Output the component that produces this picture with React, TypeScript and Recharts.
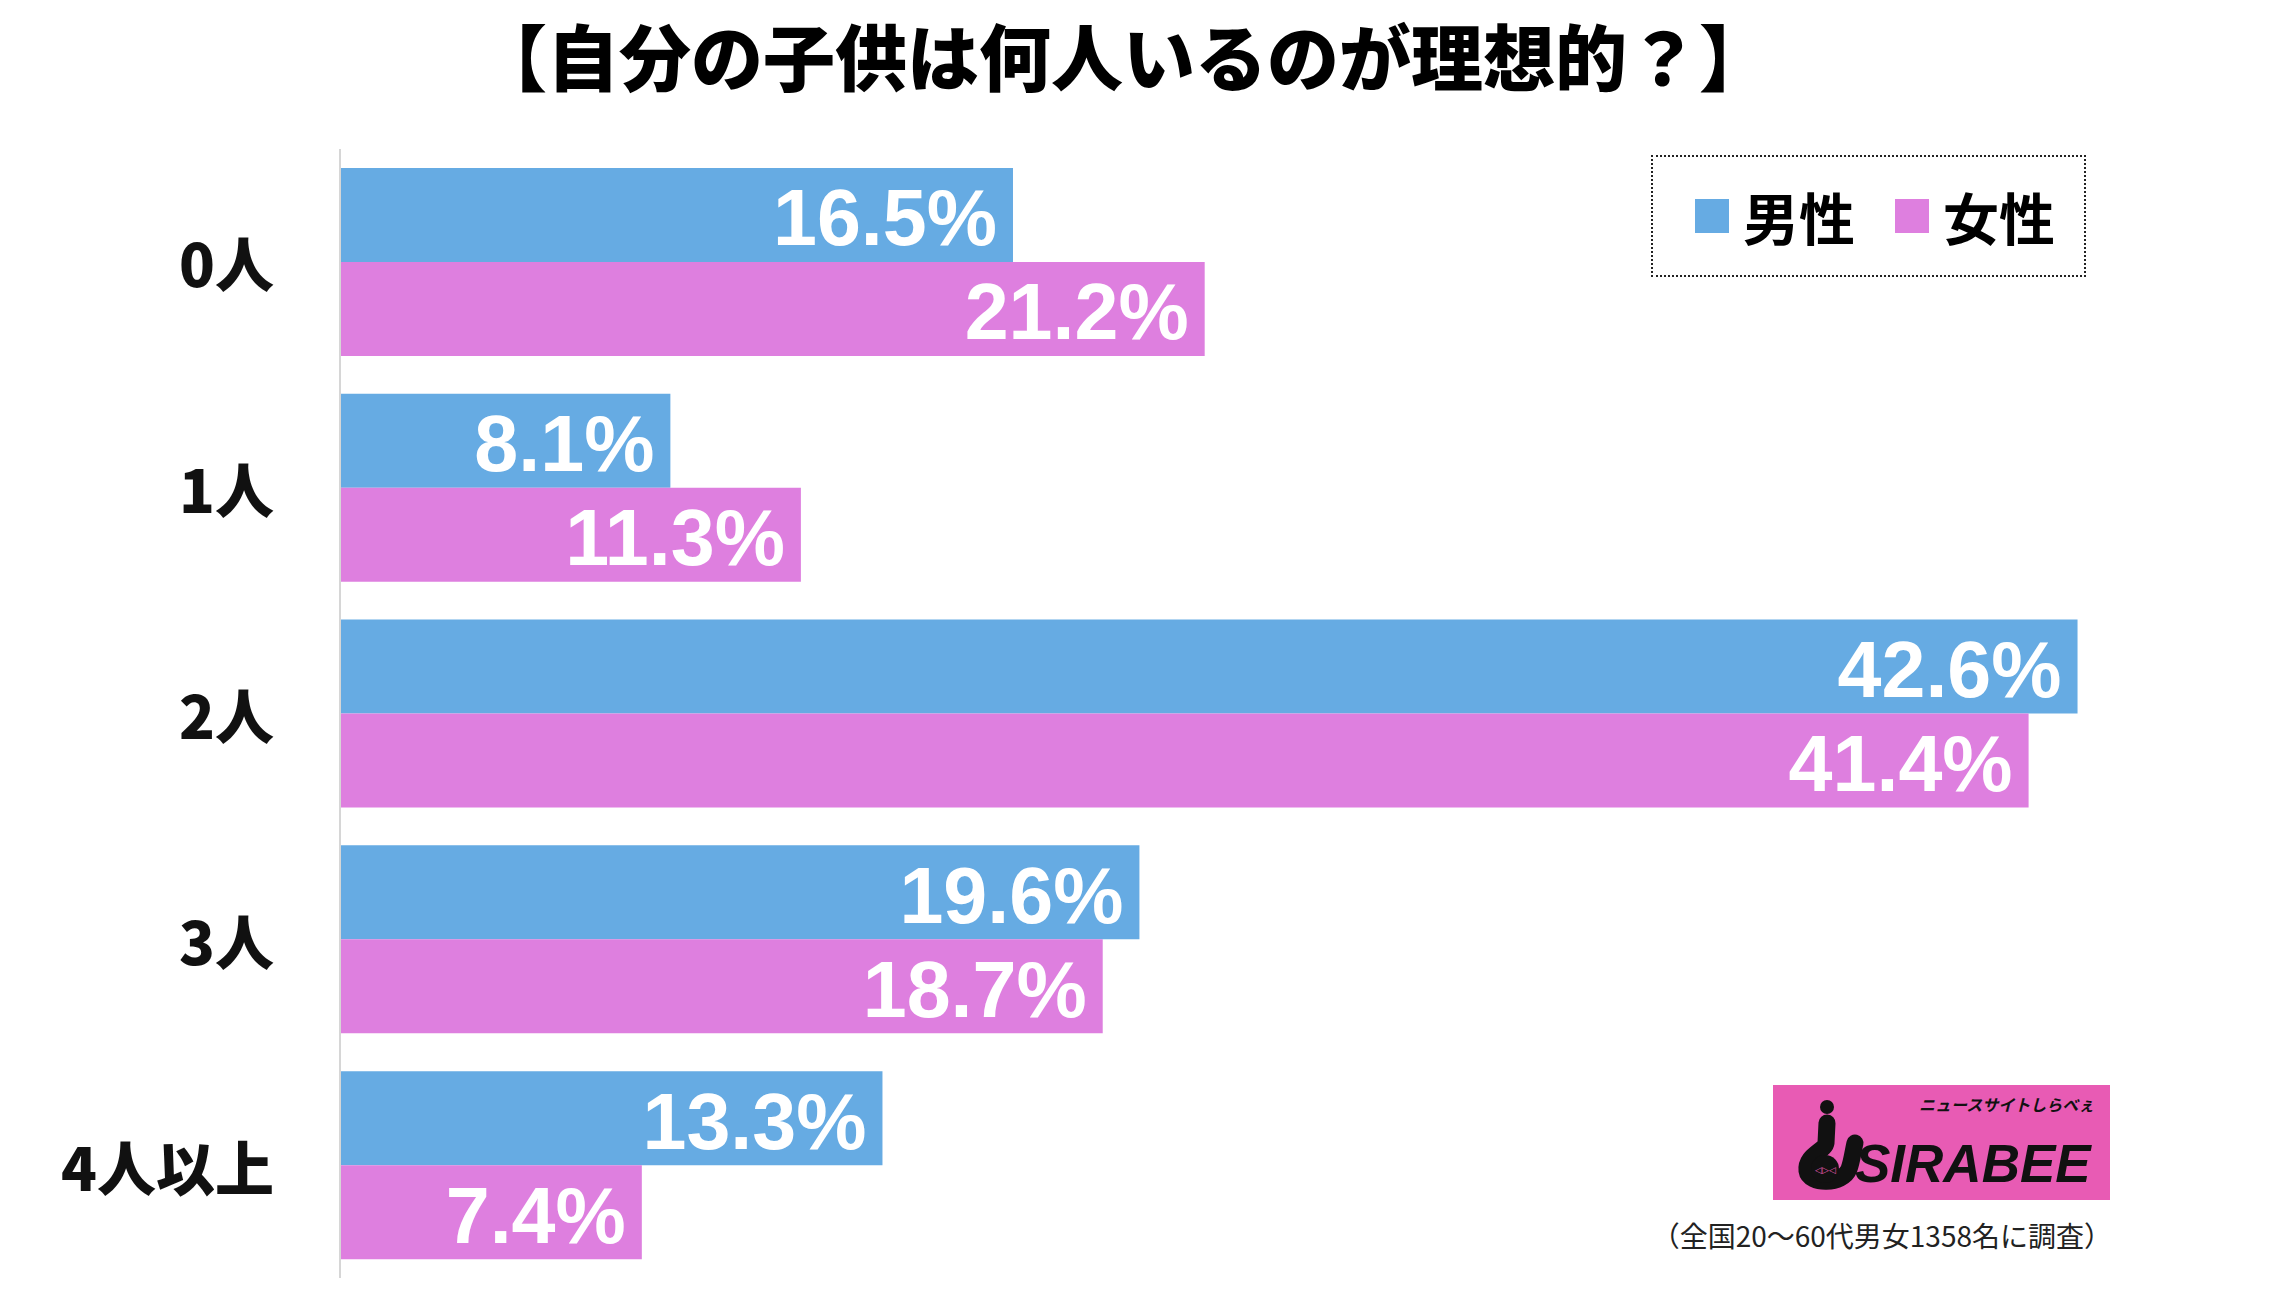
import { BarChart, Bar, XAxis, YAxis, LabelList } from 'recharts';

// survey answers: ideal number of own children
const categories = ['0人', '1人', '2人', '3人', '4人以上'];
const maleValues = [16.5, 8.1, 42.6, 19.6, 13.3];
const femaleValues = [21.2, 11.3, 41.4, 18.7, 7.4];
const seriesNames = ['男性', '女性'];

const COLORS = ['#66abe3', '#de7fdf'];
const JP_FONT = "'Noto Sans CJK JP', 'Noto Sans CJK SC', sans-serif";

const data = categories.map((name, i) => ({
  name,
  male: maleValues[i],
  female: femaleValues[i],
}));

function CategoryTick(props: any) {
  const { y, payload } = props;
  return (
    <text
      x={274}
      y={y}
      textAnchor="end"
      dominantBaseline="central"
      fontSize={59}
      fontWeight={900}
      fontFamily={JP_FONT}
      fill="#111"
    >
      {payload.value}
    </text>
  );
}

function ValueLabel(props: any) {
  const { x, y, width, height, value } = props;
  return (
    <text
      x={x + width - 16}
      y={y + height / 2 + 3}
      textAnchor="end"
      dominantBaseline="central"
      fill="#fff"
      fontSize={79}
      fontWeight={700}
      fontFamily="'Liberation Sans', Arial, sans-serif"
    >
      {Number(value).toFixed(1)}%
    </text>
  );
}

function Logo() {
  return (
    <svg
      width={337}
      height={115}
      style={{ position: 'absolute', left: 1773, top: 1085 }}
    >
      <rect x={0} y={0} width={337} height={115} fill="#e85bb4" />
      {/* the "i" mascot */}
      <circle cx={54} cy={22} r={7} fill="#111" />
      <path
        d="M54 38 L53 58 C 52 66, 32 70, 34 86 C 36 100, 70 100, 76 84 C 79 76, 80 66, 82 58"
        stroke="#111"
        strokeWidth={17}
        strokeLinecap="round"
        fill="none"
      />
      <circle cx={52} cy={84} r={14} fill="#111" />
      <text x={42} y={88} fontSize={9} fill="#e85bb4" fontFamily="Arial">◁▷◁</text>
      <text
        x={146}
        y={26}
        fontSize={16}
        fontWeight={700}
        fontStyle="italic"
        fill="#111"
        fontFamily={JP_FONT}
      >
        ニュースサイトしらべぇ
      </text>
      <text
        x={82}
        y={97}
        fontSize={53}
        fontWeight={700}
        fontStyle="italic"
        fill="#111"
        fontFamily="'Liberation Sans', Arial, sans-serif"
      >
        SIRABEE
      </text>
    </svg>
  );
}

export default function App() {
  return (
    <div
      style={{
        position: 'absolute',
        left: 0,
        top: 0,
        width: 2296,
        height: 1292,
        background: '#fff',
        overflow: 'hidden',
      }}
    >
      <div
        style={{
          position: 'absolute',
          left: 0,
          width: 2246,
          top: 1,
          textAlign: 'center',
          fontFamily: JP_FONT,
          fontWeight: 900,
          fontSize: 72,
          lineHeight: 'normal',
          color: '#000',
        }}
      >
        【自分の子供は何人いるのが理想的？】
      </div>

      <BarChart
        width={2296}
        height={1292}
        data={data}
        layout="vertical"
        margin={{ top: 149, right: 39, bottom: 14, left: 0 }}
        barCategoryGap="8.4%"
        barGap={0}
      >
        <XAxis type="number" domain={[0, 47]} hide />
        <YAxis
          type="category"
          dataKey="name"
          width={340}
          axisLine={{ stroke: '#d6d6d6', strokeWidth: 2 }}
          tickLine={false}
          tick={<CategoryTick />}
        />
        <Bar dataKey="male" name={seriesNames[0]} fill={COLORS[0]} isAnimationActive={false}>
          <LabelList dataKey="male" content={<ValueLabel />} />
        </Bar>
        <Bar dataKey="female" name={seriesNames[1]} fill={COLORS[1]} isAnimationActive={false}>
          <LabelList dataKey="female" content={<ValueLabel />} />
        </Bar>
      </BarChart>

      {/* legend */}
      <div
        style={{
          position: 'absolute',
          left: 1651,
          top: 155,
          width: 431,
          height: 118,
          border: '2px dotted #222',
          display: 'flex',
          alignItems: 'center',
          fontFamily: JP_FONT,
          fontWeight: 700,
          fontSize: 56,
        }}
      >
        {seriesNames.map((n, i) => (
          <div
            key={n}
            style={{
              display: 'flex',
              alignItems: 'center',
              marginLeft: i === 0 ? 42 : 40,
            }}
          >
            <span
              style={{
                display: 'inline-block',
                width: 34,
                height: 34,
                background: COLORS[i],
                marginRight: 14,
              }}
            />
            <span style={{ lineHeight: '60px' }}>{n}</span>
          </div>
        ))}
      </div>

      <Logo />

      <div
        style={{
          position: 'absolute',
          right: 184,
          top: 1215,
          fontFamily: JP_FONT,
          fontSize: 28,
          color: '#222',
          whiteSpace: 'nowrap',
        }}
      >
        （全国20〜60代男女1358名に調査）
      </div>
    </div>
  );
}
